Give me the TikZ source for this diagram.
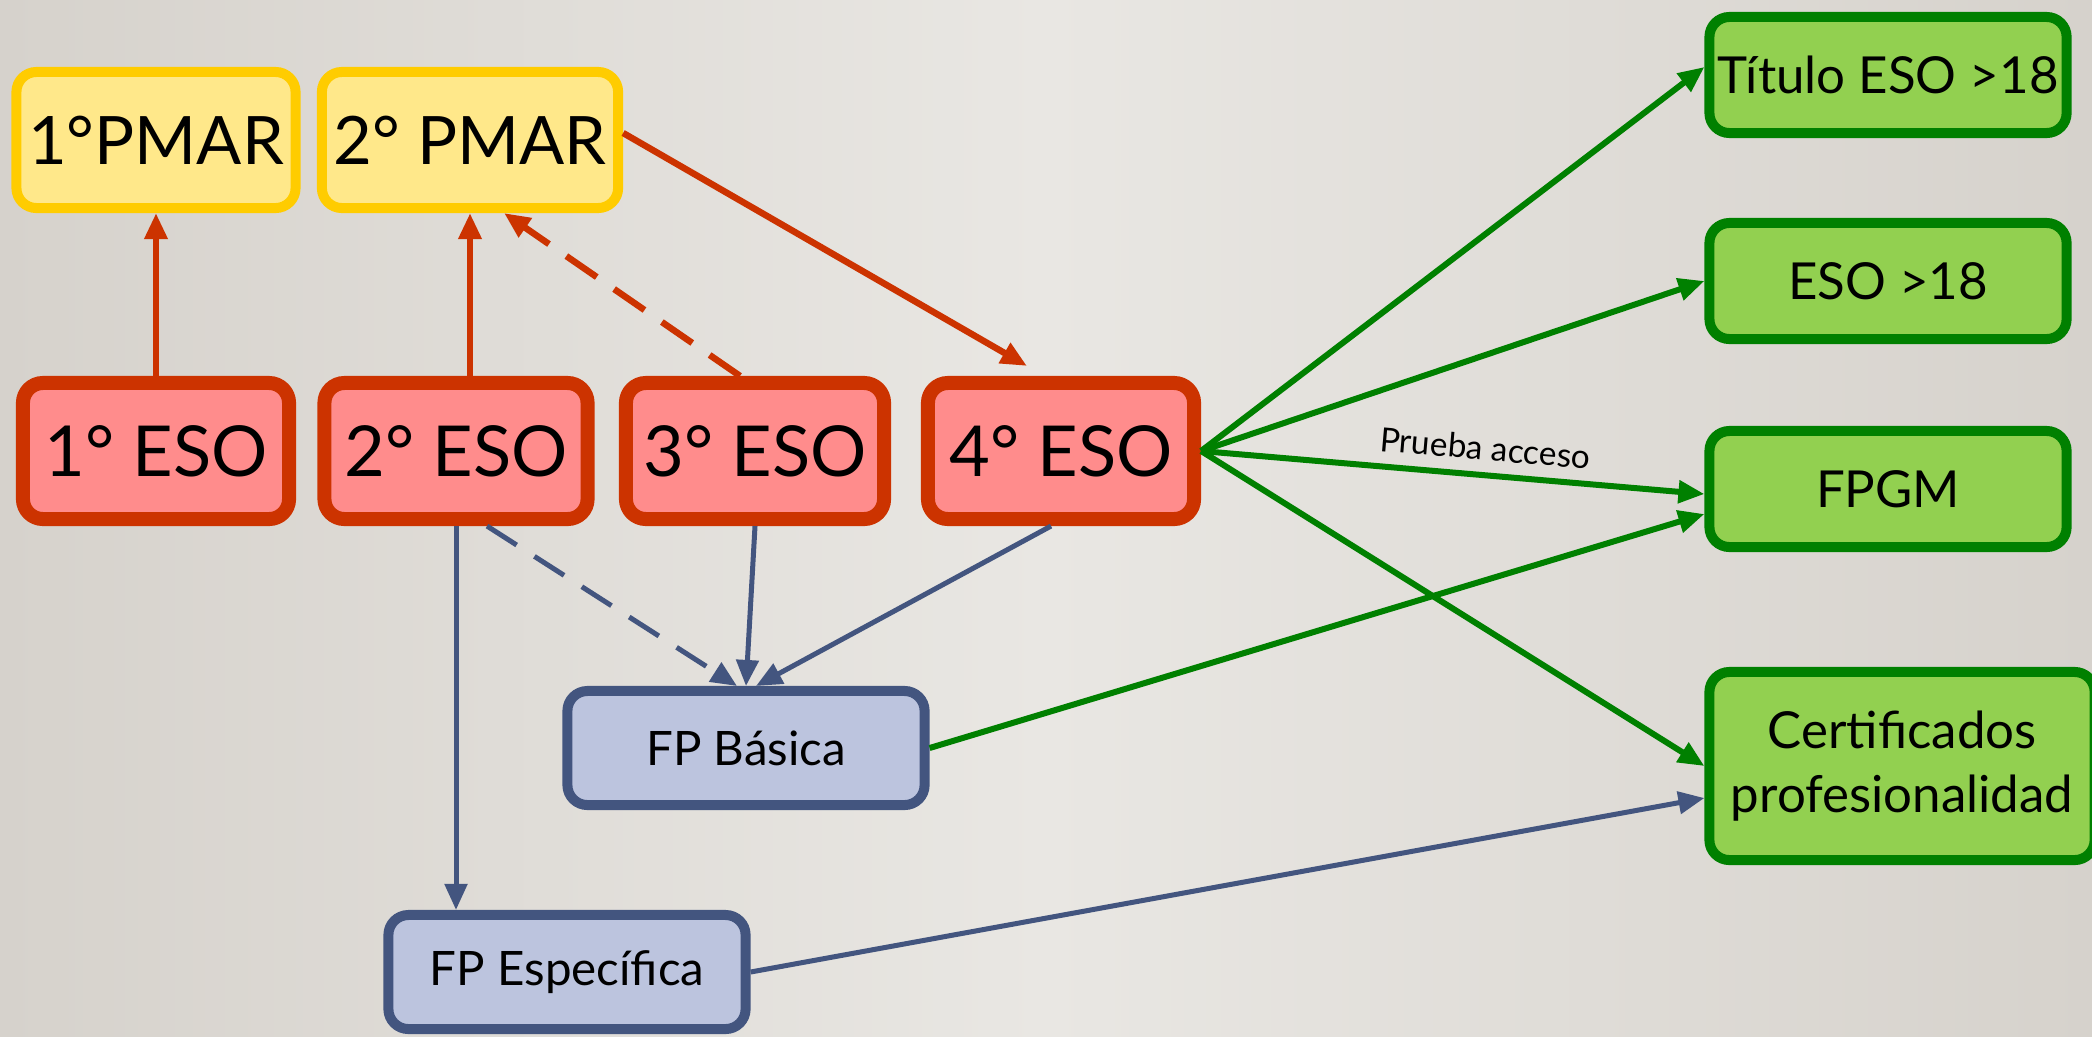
\documentclass[tikz,border=0pt]{standalone}
\usepackage{fontspec}
\setmainfont{Lato}
\usetikzlibrary{arrows.meta}

\definecolor{bgdark}{RGB}{214,210,204}
\definecolor{bglight}{RGB}{233,231,227}
\definecolor{pmarfill}{RGB}{255,232,138}
\definecolor{pmarline}{RGB}{255,204,0}
\definecolor{esofill}{RGB}{255,140,140}
\definecolor{esoline}{RGB}{204,51,0}
\definecolor{fpfill}{RGB}{188,196,222}
\definecolor{fpline}{RGB}{67,85,127}
\definecolor{salfill}{RGB}{146,208,80}
\definecolor{salline}{RGB}{0,128,0}

\begin{document}
\begin{tikzpicture}[x=0.01cm,y=-0.01cm]
        \shade[left color=bgdark, right color=bgdark, middle color=bglight] (0,0) rectangle (2092,1036);
        \useasboundingbox (0,0) rectangle (2092,1036);
        \clip (0,0) rectangle (2092,1036);

        \begin{scope}[every node/.style={rectangle,rounded corners=0.2cm,line width=0.1cm,draw=pmarline,fill=pmarfill,minimum height=1.36cm,font=\fontsize{19}{22}\selectfont}]
            \node[minimum width=2.70cm] (P1) at (156,140) {1°PMAR};
            \node[minimum width=2.94cm] (P2) at (470,140) {2° PMAR};
        \end{scope}

        \begin{scope}[every node/.style={rectangle,rounded corners=0.2cm,line width=0.14cm,draw=esoline,fill=esofill,minimum height=1.36cm,font=\fontsize{20}{24}\selectfont}]
            \node[minimum width=2.66cm] (E1) at (156,451) {1° ESO};
            \node[minimum width=2.63cm] (E2) at (456,451) {2° ESO};
            \node[minimum width=2.58cm] (E3) at (755,451) {3° ESO};
            \node[minimum width=2.66cm] (E4) at (1061,451) {4° ESO};
        \end{scope}

        \begin{scope}[every node/.style={rectangle,rounded corners=0.2cm,line width=0.1cm,draw=fpline,fill=fpfill,minimum width=3.57cm,minimum height=1.14cm,font=\fontsize{13.5}{16}\selectfont}]
            \node (FPB) at (746,748) {FP Básica};
            \node (FPE) at (567,972) {FP Específica};
        \end{scope}

        \begin{scope}[every node/.style={rectangle,rounded corners=0.2cm,line width=0.1cm,draw=salline,fill=salfill,minimum width=3.57cm,minimum height=1.16cm,inner xsep=1pt,font=\fontsize{14.5}{18}\selectfont}]
            \node (T) at (1888,75) {Título ESO >18};
            \node (S) at (1888,281) {ESO >18};
            \node (G) at (1888,489) {FPGM};
            \node[minimum width=3.85cm,minimum height=1.88cm,align=center] (C) at (1902,766) {Certificados\\profesionalidad};
        \end{scope}

        \begin{scope}[>={Triangle[length=0.26cm,width=0.22cm]},
            every edge/.style={draw=esoline, line width=0.065cm}]
            \path [->] (E1) edge (P1);
            \path [->] (E2.north -| P2) edge (P2.south);
            \path [->, dash pattern=on 10.5pt off 6pt] ([xshift=-0.15cm]E3.north) edge ([xshift=0.34cm]P2.south);
            \path [->] ([yshift=0.07cm]P2.east) edge ([xshift=-0.34cm,yshift=0.1cm]E4.north);
        \end{scope}

        \begin{scope}[>={Triangle[length=0.26cm,width=0.22cm]},
            every edge/.style={draw=fpline, line width=0.05cm}]
            \path [->] (E2.south) edge (E2.south |- FPE.north);
            \path [->, dash pattern=on 10pt off 6pt] ([xshift=0.31cm]E2.south) edge ([xshift=-0.09cm]FPB.north);
            \path [->] (E3.south) edge (FPB.north);
            \path [->] ([xshift=-0.1cm]E4.south) edge ([xshift=0.1cm]FPB.north);
            \path [->] (FPE.east) edge ([yshift=-0.32cm]C.west);
        \end{scope}

        \begin{scope}[>={Triangle[length=0.26cm,width=0.22cm]},
            every edge/.style={draw=salline, line width=0.06cm}]
            \path [->] (E4.east) edge ([yshift=0.08cm]T.west);
            \path [->] (E4.east) edge (S.west);
            \path [->] (E4.east) edge node[above,sloped,pos=0.56,font=\fontsize{9.5}{11}\selectfont]{Prueba acceso} ([yshift=-0.05cm]G.west);
            \path [->] (E4.east) edge (C.west);
            \path [->] (FPB.east) edge ([yshift=-0.25cm]G.west);
        \end{scope}
    \end{tikzpicture}
\end{document}
